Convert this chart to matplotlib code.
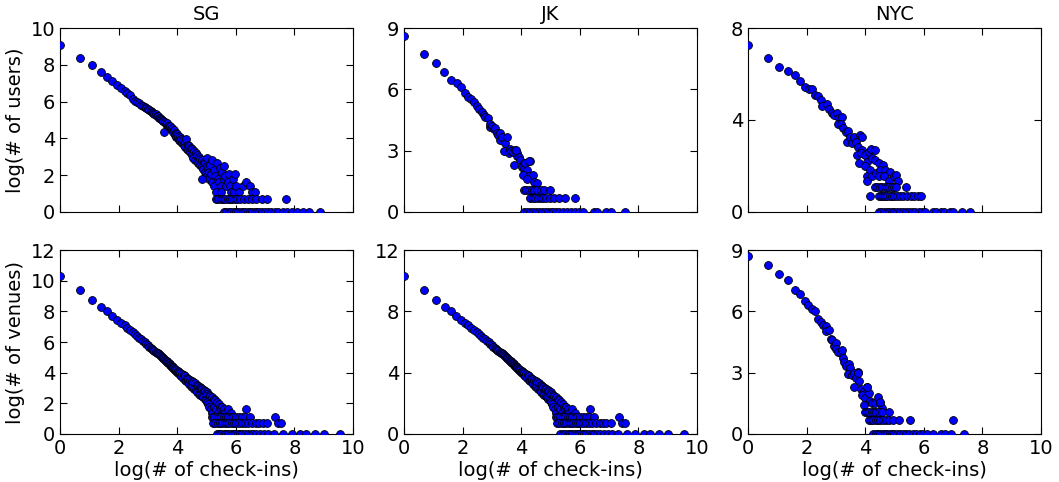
import matplotlib
matplotlib.use("Agg")
import matplotlib.pyplot as plt
import numpy as np

# log(# of check-ins) vs log(# of users / venues)
cities = ["SG", "JK", "NYC"]

# ---------- users ----------
sg_users_x = [0.00, 0.69, 1.10, 1.39, 1.61, 1.79, 1.95, 2.08, 2.20, 2.30, 2.40, 2.48, 2.56, 2.64, 2.71, 2.77, 2.83, 2.89, 2.94, 3.00,
              3.04, 3.09, 3.14, 3.18, 3.22, 3.26, 3.30, 3.33, 3.37, 3.40, 3.43, 3.47, 3.50, 3.53, 3.56, 3.58, 3.61, 3.64, 3.66, 3.69,
              3.71, 3.74, 3.76, 3.78, 3.81, 3.83, 3.85, 3.87, 3.89, 3.91, 3.93, 3.95, 3.97, 4.00, 4.01, 4.03, 4.06, 4.08, 4.11, 4.13,
              4.16, 4.19, 4.22, 4.25, 4.28, 4.30, 4.33, 4.36, 4.38, 4.41, 4.44, 4.47, 4.50, 4.52, 4.55, 4.58, 4.61, 4.64, 4.66, 4.69,
              4.71, 4.74, 4.76, 4.79, 4.84, 4.86, 4.88, 4.91, 4.93, 4.96, 4.98, 5.00, 5.01, 5.03, 5.05, 5.08, 5.10, 5.13, 5.15, 5.17,
              5.20, 5.24, 5.27, 5.30, 5.32, 5.35, 5.38, 5.43, 5.45, 5.48, 5.50, 5.53, 5.58, 5.61, 5.64, 5.67, 5.73, 5.76, 5.80, 5.83,
              5.90, 5.94, 5.97, 6.02, 6.12, 6.25, 6.33, 6.48, 6.55, 6.66, 4.84]
sg_users_y = [9.06, 8.39, 7.98, 7.62, 7.35, 7.11, 6.90, 6.72, 6.57, 6.48, 6.35, 6.15, 6.05, 5.98, 5.90, 5.82, 5.76, 5.70, 5.64, 5.58,
              5.55, 5.48, 5.44, 5.38, 5.33, 5.30, 5.22, 5.20, 5.12, 5.10, 5.05, 5.02, 4.95, 4.92, 4.37, 4.88, 4.80, 4.76, 4.82, 4.68,
              4.64, 4.60, 4.66, 4.52, 4.48, 4.56, 4.38, 4.35, 4.45, 4.25, 4.20, 4.32, 4.10, 4.22, 4.02, 4.12, 3.92, 4.08, 3.85, 3.98,
              3.75, 3.92, 3.62, 3.80, 3.52, 3.95, 3.45, 3.65, 3.35, 3.58, 3.25, 3.50, 3.10, 3.40, 2.95, 3.30, 2.85, 3.20, 2.75, 3.10,
              2.65, 3.00, 2.55, 2.90, 2.45, 2.85, 2.35, 2.70, 2.20, 2.64, 2.08, 2.48, 2.94, 1.95, 2.40, 2.20, 1.79, 2.56, 2.08, 2.83,
              1.61, 2.30, 1.39, 1.95, 1.10, 2.64, 1.79, 1.61, 2.40, 1.39, 1.10, 2.20, 1.79, 2.48, 1.95, 1.39, 1.61, 2.08, 1.39, 1.10,
              1.79, 1.10, 2.08, 1.39, 1.10, 1.39, 1.61, 1.39, 1.10, 1.10, 1.78]
sg_users_two = [5.32, 5.40, 5.48, 5.56, 5.64, 5.72, 5.80, 5.88, 5.96, 6.05, 6.15, 6.28, 6.40, 6.55, 6.70, 6.88, 7.05, 7.70]
sg_users_one = [5.60, 5.68, 5.76, 5.84, 5.92, 6.00, 6.08, 6.16, 6.24, 6.32, 6.40, 6.48, 6.56, 6.64, 6.72, 6.80, 6.90, 7.00,
                7.10, 7.20, 7.32, 7.45, 7.60, 7.75, 7.92, 8.10, 8.30, 8.50, 8.86]

jk_users_x = [0.00, 0.68, 1.09, 1.38, 1.61, 1.80, 1.95, 2.09, 2.19, 2.30, 2.39, 2.48, 2.56, 2.65, 2.73, 2.78, 2.87, 2.92, 2.95, 3.01,
              3.06, 3.12, 3.18, 3.22, 3.26, 3.29, 3.35, 3.40, 3.46, 3.52, 3.57, 3.63, 3.66, 3.72, 3.77, 3.80, 3.84, 3.86, 3.91, 3.97,
              4.02, 4.08, 4.11, 4.14, 4.14, 4.19, 4.25, 4.31, 4.39, 4.42, 4.05, 4.20, 4.54, 3.81, 4.26]
jk_users_y = [8.59, 7.74, 7.29, 6.87, 6.48, 6.31, 6.10, 5.84, 5.63, 5.55, 5.39, 5.18, 5.03, 4.87, 4.74, 4.63, 4.58, 4.17, 4.30, 4.20,
              4.05, 4.09, 3.88, 3.75, 3.88, 3.52, 3.69, 3.00, 3.36, 3.65, 2.87, 3.07, 3.00, 2.95, 2.31, 3.04, 2.75, 2.87, 2.71, 2.55,
              2.22, 2.39, 2.10, 1.90, 2.39, 2.06, 1.74, 2.47, 1.82, 1.49, 1.79, 1.61, 1.41, 3.04, 2.47]
jk_users_three = [4.09, 4.18, 4.27, 4.36, 4.45, 4.55, 4.66, 4.78, 4.99]
jk_users_two = [4.31, 4.40, 4.48, 4.57, 4.66, 4.76, 4.86, 4.98, 5.12, 5.30, 5.50, 5.83]
jk_users_one = [4.10, 4.20, 4.30, 4.40, 4.50, 4.60, 4.70, 4.80, 4.90, 5.00, 5.10, 5.20, 5.30, 5.42, 5.55, 5.70, 5.82, 5.96,
                6.10, 6.50, 6.60, 6.90, 7.05, 7.55]

nyc_users_x = [0.00, 0.68, 1.07, 1.37, 1.60, 1.79, 1.93, 2.07, 2.20, 2.29, 2.40, 2.49, 2.54, 2.68, 2.77, 2.86, 2.94, 3.03, 3.11, 3.20,
               3.08, 3.16, 3.24, 3.33, 3.42, 3.37, 3.48, 3.56, 3.62, 3.67, 3.76, 3.73, 3.82, 3.90, 3.88, 3.79, 3.86, 3.98, 4.07, 4.01,
               4.12, 4.21, 4.33, 4.07, 4.05, 4.15, 4.24, 4.35, 4.46, 4.60, 4.24, 4.37, 4.52, 4.69, 4.86, 4.46, 4.63, 4.80, 4.97, 5.05,
               5.12]
nyc_users_y = [7.25, 6.70, 6.32, 6.14, 5.96, 5.69, 5.43, 5.34, 5.34, 5.08, 5.05, 4.87, 4.61, 4.68, 4.46, 4.29, 4.22, 4.32, 4.07, 4.12,
               3.83, 3.83, 3.64, 3.49, 3.52, 3.06, 3.28, 3.02, 3.25, 3.06, 2.84, 2.48, 3.35, 3.28, 2.70, 2.12, 2.56, 2.48, 2.19, 1.98,
               2.63, 2.73, 2.70, 1.57, 1.36, 1.83, 2.34, 2.27, 2.12, 2.05, 1.55, 1.69, 1.81, 1.81, 1.76, 1.55, 1.55, 1.33, 1.55, 1.62,
               1.36]
nyc_users_three = [4.35, 4.42, 4.50, 4.58, 4.66, 4.74, 4.82, 4.90, 4.98, 5.06, 5.39]
nyc_users_two = [4.15, 4.46, 4.53, 4.60, 4.68, 4.76, 4.84, 4.92, 5.00, 5.10, 5.20, 5.30, 5.42, 5.55, 5.68, 5.80, 5.91]
nyc_users_one = [4.46, 4.55, 4.64, 4.73, 4.82, 4.91, 5.00, 5.10, 5.20, 5.30, 5.40, 5.50, 5.60, 5.70, 5.82, 5.95, 6.05,
                 6.30, 6.40, 6.58, 6.70, 6.88, 7.00, 7.30, 7.57]

# ---------- venues ----------
sg_venues_x = [0.00, 0.69, 1.10, 1.39, 1.61, 1.79, 1.95, 2.08, 2.20, 2.30, 2.40, 2.48, 2.56, 2.64, 2.71, 2.77, 2.83, 2.89, 2.94, 3.00,
               3.04, 3.09, 3.14, 3.18, 3.22, 3.26, 3.30, 3.33, 3.37, 3.40, 3.43, 3.47, 3.50, 3.53, 3.56, 3.58, 3.61, 3.64, 3.66, 3.69,
               3.71, 3.74, 3.76, 3.78, 3.81, 3.83, 3.85, 3.87, 3.89, 3.91, 3.93, 3.95, 3.97, 4.00, 4.01, 4.03, 4.06, 4.08, 4.11, 4.13,
               4.16, 4.19, 4.22, 4.25, 4.28, 4.30, 4.33, 4.36, 4.38, 4.41, 4.44, 4.47, 4.50, 4.52, 4.55, 4.58, 4.61, 4.64, 4.66, 4.69,
               4.71, 4.74, 4.76, 4.79, 4.81, 4.84, 4.86, 4.88, 4.91, 4.93, 4.96, 4.98, 5.00, 5.01, 5.03, 5.05, 5.08, 5.10, 5.13, 5.15,
               5.17, 5.20, 5.24, 5.27, 5.30, 5.32, 5.35, 5.38, 5.43, 5.45, 5.48, 5.53, 5.58, 5.61, 5.64, 5.72, 5.84, 6.35]
sg_venues_y = [10.29, 9.36, 8.76, 8.28, 8.00, 7.70, 7.42, 7.24, 7.09, 6.92, 6.77, 6.62, 6.49, 6.38, 6.28, 6.18, 6.08, 5.98, 5.90, 5.80,
               5.70, 5.62, 5.55, 5.50, 5.42, 5.38, 5.30, 5.28, 5.20, 5.15, 5.10, 5.04, 4.98, 4.95, 4.88, 4.85, 4.78, 4.74, 4.70, 4.64,
               4.62, 4.55, 4.52, 4.46, 4.44, 4.36, 4.35, 4.28, 4.26, 4.18, 4.22, 4.10, 4.15, 4.02, 4.12, 3.95, 4.05, 3.85, 3.98, 3.75,
               3.92, 3.68, 3.82, 3.55, 3.75, 3.45, 3.68, 3.38, 3.60, 3.28, 3.52, 3.15, 3.45, 3.05, 3.38, 2.95, 3.30, 2.85, 3.22, 2.75,
               3.15, 2.64, 3.08, 2.56, 3.00, 2.48, 2.94, 2.40, 2.89, 2.30, 2.83, 2.20, 2.77, 2.08, 2.64, 1.95, 2.56, 1.79, 2.48, 1.61,
               2.40, 1.39, 2.30, 1.79, 2.20, 1.61, 2.08, 1.39, 1.95, 1.79, 1.61, 1.79, 1.39, 1.61, 1.39, 1.61, 1.39, 1.61]
sg_venues_three = [5.18, 5.26, 5.34, 5.42, 5.50, 5.58, 5.66, 5.74, 5.82, 5.90, 6.00, 6.10, 6.20, 6.30, 6.48, 7.34]
sg_venues_two = [5.23, 5.30, 5.38, 5.46, 5.54, 5.62, 5.70, 5.78, 5.86, 5.94, 6.02, 6.12, 6.22, 6.32, 6.42, 6.55, 6.68,
                 6.80, 6.91, 7.06, 7.44, 7.53]
sg_venues_one = [5.34, 5.42, 5.50, 5.58, 5.66, 5.74, 5.82, 5.90, 5.98, 6.06, 6.14, 6.22, 6.30, 6.40, 6.50, 6.60, 6.70,
                 6.82, 6.95, 7.10, 7.30, 7.60, 7.90, 8.20, 8.40, 8.70, 9.00, 9.55]

# the JK venue panel in the figure shows the same points as SG
jk_venues_x = sg_venues_x
jk_venues_y = sg_venues_y
jk_venues_three = sg_venues_three
jk_venues_two = sg_venues_two
jk_venues_one = sg_venues_one

nyc_venues_x = [0.00, 0.68, 1.07, 1.36, 1.60, 1.78, 1.93, 2.06, 2.20, 2.29, 2.38, 2.48, 2.57, 2.65, 2.67, 2.76, 2.82, 2.87, 2.93, 2.99,
                3.02, 3.08, 3.16, 3.21, 3.24, 3.29, 3.36, 3.44, 3.49, 3.42, 3.55, 3.63, 3.69, 3.75, 3.80, 3.62, 3.87, 3.95, 3.89, 4.06,
                4.00, 4.12, 3.95, 4.17, 4.23, 4.34, 4.45, 4.51, 4.57, 4.07, 3.76, 4.52]
nyc_venues_y = [8.69, 8.27, 7.83, 7.51, 7.05, 6.86, 6.53, 6.32, 6.13, 6.00, 5.61, 5.48, 5.35, 5.27, 5.03, 5.11, 4.67, 4.59, 4.31, 4.43,
                4.18, 4.02, 3.97, 4.10, 3.71, 3.50, 3.31, 3.42, 3.23, 2.92, 2.88, 2.97, 2.76, 3.05, 2.57, 2.30, 2.21, 2.09, 1.93, 2.30,
                1.77, 1.99, 1.42, 1.59, 1.53, 1.53, 1.80, 1.53, 1.26, 2.30, 2.98, 1.57]
nyc_venues_three = [3.98, 4.06, 4.14, 4.22, 4.30, 4.38, 4.46, 4.57, 4.80]
nyc_venues_two = [4.12, 4.20, 4.28, 4.36, 4.44, 4.52, 4.60, 4.70, 4.82, 4.95, 5.14, 5.54, 6.99]
nyc_venues_one = [4.28, 4.36, 4.44, 4.52, 4.60, 4.68, 4.76, 4.84, 4.92, 5.00, 5.10, 5.20, 5.30, 5.40, 5.50, 5.62,
                  5.74, 5.86, 5.98, 6.10, 6.31, 6.60, 6.71, 6.93, 7.38]

users = [(sg_users_x, sg_users_y, [], sg_users_two, sg_users_one),
         (jk_users_x, jk_users_y, jk_users_three, jk_users_two, jk_users_one),
         (nyc_users_x, nyc_users_y, nyc_users_three, nyc_users_two, nyc_users_one)]
venues = [(sg_venues_x, sg_venues_y, sg_venues_three, sg_venues_two, sg_venues_one),
          (jk_venues_x, jk_venues_y, jk_venues_three, jk_venues_two, jk_venues_one),
          (nyc_venues_x, nyc_venues_y, nyc_venues_three, nyc_venues_two, nyc_venues_one)]

user_ylims = [(10, [0, 2, 4, 6, 8, 10]), (9, [0, 3, 6, 9]), (8, [0, 4, 8])]
venue_ylims = [(12, [0, 2, 4, 6, 8, 10, 12]), (12, [0, 4, 8, 12]), (9, [0, 3, 6, 9])]

plt.rcParams['font.family'] = 'DejaVu Sans'
plt.rcParams['font.size'] = 14
plt.rcParams['xtick.direction'] = 'in'
plt.rcParams['ytick.direction'] = 'in'
plt.rcParams['xtick.top'] = True
plt.rcParams['ytick.right'] = True
plt.rcParams['xtick.major.size'] = 5
plt.rcParams['ytick.major.size'] = 5

fig = plt.figure(figsize=(10.59, 4.82), dpi=100)

lefts = [0.0567, 0.3815, 0.7063]
w = 0.2767
bottoms = [0.5602, 0.0996]
h = 0.3817


def panel(ax, data, ylim):
    x, y, three, two, one = data
    pts_x = list(x) + list(three) + list(two) + list(one)
    pts_y = (list(y) + [np.log(3)] * len(three) + [np.log(2)] * len(two)
             + [0.0] * len(one))
    ax.scatter(pts_x, pts_y, s=32, c='b', edgecolors='k', linewidths=0.6, zorder=3)
    ax.set_xlim(0, 10)
    ax.set_ylim(0, ylim[0])
    ax.set_yticks(ylim[1])
    ax.set_xticks([0, 2, 4, 6, 8, 10])


for col in range(3):
    ax = fig.add_axes([lefts[col], bottoms[0], w, h])
    panel(ax, users[col], user_ylims[col])
    ax.set_xticklabels([])
    ax.set_title(cities[col], fontsize=14)
    if col == 0:
        ax.set_ylabel('log(# of users)')

    ax = fig.add_axes([lefts[col], bottoms[1], w, h])
    panel(ax, venues[col], venue_ylims[col])
    ax.set_xlabel('log(# of check-ins)', labelpad=2)
    if col == 0:
        ax.set_ylabel('log(# of venues)')

fig.savefig('out.png', dpi=100)
